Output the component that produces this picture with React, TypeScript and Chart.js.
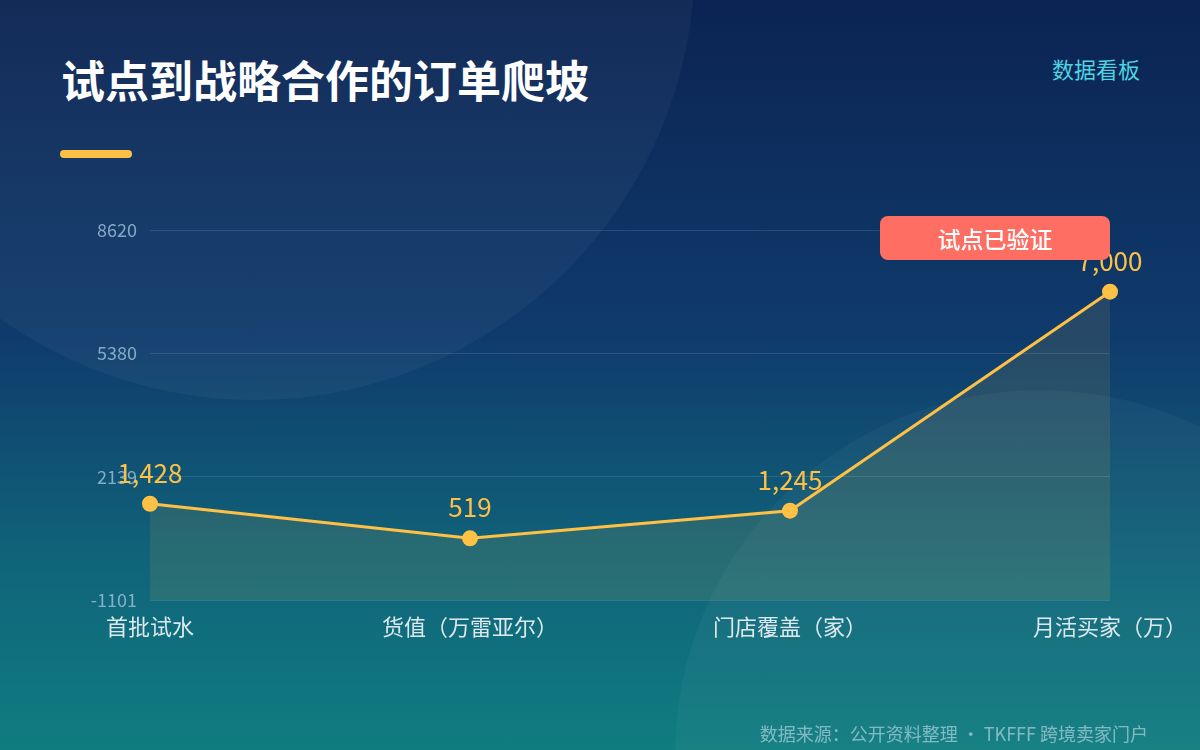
import React, { useEffect, useRef } from "react";
import { Chart, registerables } from "chart.js";

Chart.register(...registerables);

const categories = ["首批试水", "货值（万雷亚尔）", "门店覆盖（家）", "月活买家（万）"];
const values = [1428, 519, 1245, 7000];
const yTicks = [-1101, 2139.33, 5379.67, 8620];
const badgeText = "试点已验证";
const titleText = "试点到战略合作的订单爬坡";
const tagText = "数据看板";
const sourceText = "数据来源：公开资料整理 · TKFFF 跨境卖家门户";

const FONT = '"Noto Sans CJK SC", "Noto Sans", sans-serif';
const GOLD = "#ffc145";

const labelPlugin = {
  id: "valueLabels",
  afterDatasetsDraw(chart: any) {
    const ctx = chart.ctx;
    const meta = chart.getDatasetMeta(0);
    ctx.save();
    ctx.font = `26px ${FONT}`;
    ctx.fillStyle = GOLD;
    ctx.textAlign = "center";
    ctx.textBaseline = "middle";
    meta.data.forEach((pt: any, i: number) => {
      ctx.fillText(values[i].toLocaleString("en-US"), pt.x, pt.y - 31);
    });
    ctx.restore();
  },
  afterDraw(chart: any) {
    const ctx = chart.ctx;
    const area = chart.chartArea;
    const w = 230, h = 44;
    const x = area.right - w;
    const y = area.top - 14;
    ctx.save();
    ctx.fillStyle = "#ff6e63";
    ctx.beginPath();
    (ctx as any).roundRect(x, y, w, h, 8);
    ctx.fill();
    ctx.fillStyle = "#ffffff";
    ctx.font = `500 23px ${FONT}`;
    ctx.textAlign = "center";
    ctx.textBaseline = "middle";
    ctx.fillText(badgeText, x + w / 2, y + h / 2 + 1);
    ctx.restore();
  },
};

export default function App() {
  const ref = useRef<HTMLCanvasElement>(null);

  useEffect(() => {
    document.body.style.margin = "0";
    const chart = new Chart(ref.current!, {
      type: "line",
      data: {
        labels: categories,
        datasets: [
          {
            data: values,
            borderColor: GOLD,
            borderWidth: 3,
            backgroundColor: "rgba(255,196,69,0.1)",
            fill: "start",
            pointRadius: 8,
            pointBackgroundColor: GOLD,
            pointBorderColor: GOLD,
            pointBorderWidth: 0,
            tension: 0,
          },
        ],
      },
      options: {
        responsive: false,
        animation: false,
        layout: { padding: { left: 90, right: 90, top: 230, bottom: 100 } },
        plugins: { legend: { display: false }, tooltip: { enabled: false } },
        scales: {
          x: {
            offset: false,
            grid: { display: false, drawTicks: false },
            border: { display: false },
            ticks: {
              color: "#dde8ee",
              font: { family: FONT, size: 22 },
              padding: 13,
              maxRotation: 0,
              autoSkip: false,
            },
            afterFit(s: any) {
              s.height = 50;
            },
          },
          y: {
            min: -1101,
            max: 8620,
            grid: { color: "rgba(255,255,255,0.12)", drawTicks: false, lineWidth: 1 },
            border: { display: false },
            ticks: {
              color: "rgba(160,195,220,0.8)",
              font: { family: FONT, size: 18 },
              padding: 13,
              callback: (v: any) => String(Math.round(Number(v))),
            },
            afterBuildTicks(s: any) {
              s.ticks = yTicks.map((v) => ({ value: v }));
            },
            afterFit(s: any) {
              s.width = 60;
            },
          },
        },
      },
      plugins: [labelPlugin],
    });
    return () => chart.destroy();
  }, []);

  return (
    <div
      style={{
        position: "fixed",
        left: 0,
        top: 0,
        width: 1200,
        height: 750,
        overflow: "hidden",
        background: "linear-gradient(180deg, #0b2352 0%, #0f3b6c 45%, #10647a 75%, #0f7d80 100%)",
        fontFamily: FONT,
      }}
    >
      <div
        style={{
          position: "absolute",
          left: 255 - 440,
          top: -40 - 440,
          width: 880,
          height: 880,
          borderRadius: "50%",
          background: "rgba(255,255,255,0.04)",
        }}
      />
      <div
        style={{
          position: "absolute",
          left: 1040 - 365,
          top: 755 - 365,
          width: 730,
          height: 730,
          borderRadius: "50%",
          background: "rgba(255,255,255,0.035)",
        }}
      />
      <div
        style={{
          position: "absolute",
          left: 61,
          top: 49,
          fontSize: 44,
          lineHeight: "60px",
          fontWeight: 700,
          color: "#ffffff",
          whiteSpace: "nowrap",
        }}
      >
        {titleText}
      </div>
      <div
        style={{
          position: "absolute",
          left: 60,
          top: 150,
          width: 72,
          height: 8,
          borderRadius: 4,
          background: GOLD,
        }}
      />
      <div
        style={{
          position: "absolute",
          right: 60,
          top: 52,
          fontSize: 22,
          lineHeight: "32px",
          color: "#4fd3e2",
          whiteSpace: "nowrap",
        }}
      >
        {tagText}
      </div>
      <canvas ref={ref} width={1200} height={750} style={{ position: "absolute", left: 0, top: 0 }} />
      <div
        style={{
          position: "absolute",
          right: 52,
          top: 720,
          fontSize: 18,
          lineHeight: "26px",
          color: "rgba(200,225,235,0.6)",
          whiteSpace: "nowrap",
        }}
      >
        {sourceText}
      </div>
    </div>
  );
}
